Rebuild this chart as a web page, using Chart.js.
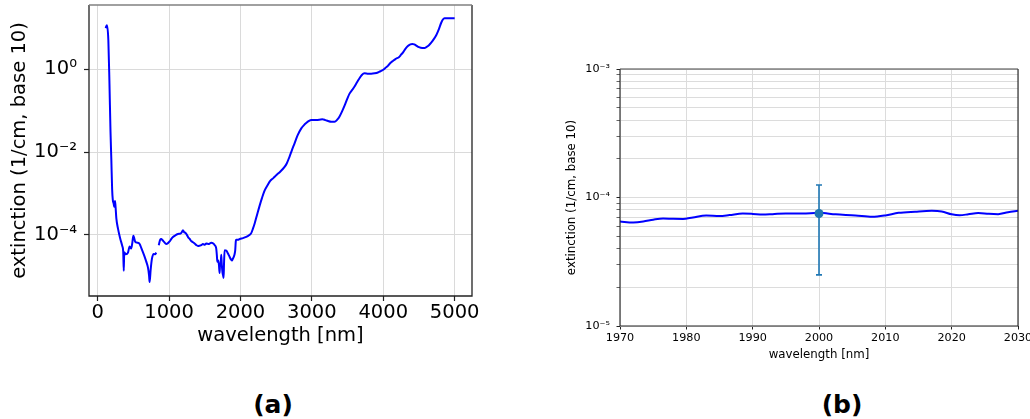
<!DOCTYPE html>
<html>
<head>
<meta charset="utf-8">
<script src="https://cdn.jsdelivr.net/npm/chart.js@4/dist/chart.umd.min.js"></script>
<style>
  html, body { margin: 0; padding: 0; background: #fff; width: 1030px; height: 419px; overflow: hidden; position: relative; }
  canvas { position: absolute; }
  #specA { left: 0; top: 0; }
  #specB { left: 540px; top: 40px; filter: blur(0.35px); }
  .cap { position: absolute; top: 392px; width: 80px; margin-left: -40px; text-align: center;
         font: bold 25px/25px "DejaVu Sans", sans-serif; color: #000; }
</style>
</head>
<body>
<canvas id="specA" width="500" height="360"></canvas>
<canvas id="specB" width="490" height="330"></canvas>
<div class="cap" style="left:273px">(a)</div>
<div class="cap" style="left:842px">(b)</div>
<script>
// ---- (a) full spectrum: wavelength [nm] vs. extinction [1/cm, base 10] ----
const wavelengthA = [
  112, 130, 150, 165, 180, 192, 203, 212, 225, 233, 243, 250, 262, 285, 315, 345, 358, 366, 372, 395,
  425, 448, 470, 485, 500, 512, 527, 555, 588, 612, 650, 680, 705, 720, 728, 742, 760, 785, 805, 822,
  838, 856, 875, 891, 910, 930, 960, 985, 1008, 1035, 1055, 1090, 1125, 1160, 1180, 1195, 1210, 1228, 1250, 1268,
  1290, 1311, 1335, 1358, 1385, 1410, 1430, 1451, 1475, 1500, 1521, 1560, 1591, 1620, 1640, 1660, 1670, 1676, 1690, 1700,
  1708, 1715, 1722, 1731, 1738, 1748, 1757, 1764, 1770, 1778, 1800, 1825, 1845, 1862, 1880, 1895, 1909, 1920, 1927, 1935,
  1941, 1965, 1990, 2035, 2081, 2120, 2151, 2175, 2198, 2235, 2268, 2300, 2338, 2380, 2417, 2460, 2501, 2560, 2618, 2650,
  2688, 2720, 2758, 2800, 2852, 2890, 2921, 2960, 2991, 3062, 3146, 3190, 3225, 3270, 3318, 3355, 3388, 3420, 3458, 3495,
  3528, 3565, 3598, 3635, 3668, 3700, 3738, 3790, 3832, 3880, 3925, 3960, 3995, 4030, 4065, 4100, 4135, 4175, 4219, 4250,
  4275, 4310, 4345, 4380, 4406, 4435, 4462, 4500, 4546, 4580, 4602, 4640, 4672, 4710, 4742, 4775, 4812, 4835, 4858, 4900,
  4950, 5000
];
const extinctionA = [
  9.8, 11.5, 5.01, 0.501, 3.16e-2, 6.31e-3, 1.26e-3, 7.08e-4, 5.62e-4, 4.79e-4, 6.61e-4, 5.01e-4, 2.51e-4, 1.41e-4, 8.32e-5, 5.37e-5, 3.98e-5, 1.35e-5, 3.80e-5, 3.39e-5,
  3.72e-5, 5.25e-5, 4.68e-5, 6.31e-5, 9.55e-5, 8.32e-5, 6.76e-5, 6.46e-5, 6.03e-5, 4.79e-5, 3.24e-5, 2.29e-5, 1.62e-5, 1.05e-5, 7.24e-6, 1.41e-5, 2.63e-5, 3.47e-5, 3.39e-5, 3.72e-5,
  null, 5.62e-5, 7.59e-5, 7.94e-5, 7.41e-5, 6.76e-5, 6.03e-5, 6.31e-5, 6.92e-5, 8.13e-5, 8.91e-5, 9.77e-5, 1.05e-4, 1.07e-4, 1.17e-4, 1.29e-4, 1.17e-4, 1.12e-4, 1.00e-4, 8.71e-5,
  7.94e-5, 7.08e-5, 6.61e-5, 6.17e-5, 5.62e-5, 5.37e-5, 5.50e-5, 5.62e-5, 6.03e-5, 5.75e-5, 6.17e-5, 6.03e-5, 6.46e-5, 6.17e-5, 5.62e-5, 4.79e-5, 3.16e-5, 2.24e-5, 2.40e-5, 1.78e-5,
  1.20e-5, 2.00e-5, 1.86e-5, 3.31e-5, 2.00e-5, 1.26e-5, 1.05e-5, 9.12e-6, 2.00e-5, 4.27e-5, 4.17e-5, 3.55e-5, 3.02e-5, 2.63e-5, 2.40e-5, 2.69e-5, 3.02e-5, 3.55e-5, 4.27e-5, 7.08e-5,
  7.59e-5, 7.59e-5, 7.94e-5, 8.32e-5, 8.91e-5, 9.77e-5, 1.10e-4, 1.41e-4, 1.86e-4, 3.16e-4, 5.01e-4, 7.59e-4, 1.17e-3, 1.58e-3, 2.00e-3, 2.34e-3, 2.75e-3, 3.39e-3, 4.37e-3, 5.37e-3,
  7.76e-3, 1.10e-2, 1.62e-2, 2.51e-2, 3.72e-2, 4.47e-2, 5.01e-2, 5.62e-2, 5.89e-2, 5.89e-2, 6.17e-2, 5.89e-2, 5.62e-2, 5.37e-2, 5.37e-2, 6.03e-2, 7.24e-2, 9.33e-2, 0.132, 0.191,
  0.257, 0.316, 0.380, 0.490, 0.603, 0.724, 0.794, 0.776, 0.776, 0.794, 0.832, 0.891, 0.955, 1.07, 1.20, 1.41, 1.58, 1.78, 1.95, 2.24,
  2.51, 3.09, 3.63, 3.98, 4.07, 3.98, 3.72, 3.39, 3.24, 3.24, 3.39, 3.80, 4.37, 5.37, 6.61, 8.91, 13.2, 15.8, 17.0, 17.0,
  17.0, 17.0
];
const xTicksA = [0, 1000, 2000, 3000, 4000, 5000];
const yTicksA = [1e-4, 1e-2, 1];
const yTickLabelsA = ['10\u207B\u2074', '10\u207B\u00B2', '10\u2070'];

// ---- (b) zoom around 2000 nm with one measured point and its error bar ----
const wavelengthB = [
  1970, 1972, 1973.5, 1975, 1976.5, 1978, 1979.5, 1981, 1983, 1985, 1986.5, 1988.5, 1990, 1991.5, 1993, 1995, 1997.5,
  2000, 2002.5, 2005.5, 2008, 2010, 2012, 2014.5, 2017, 2018.5, 2020, 2021.2, 2022.5, 2024, 2025.6, 2027, 2028.5, 2030
];
const extinctionB = [
  6.50e-5, 6.40e-5, 6.50e-5, 6.72e-5, 6.87e-5, 6.82e-5, 6.80e-5, 7.00e-5, 7.24e-5, 7.18e-5, 7.30e-5, 7.50e-5, 7.45e-5, 7.36e-5, 7.42e-5, 7.52e-5, 7.50e-5,
  7.60e-5, 7.40e-5, 7.25e-5, 7.07e-5, 7.25e-5, 7.60e-5, 7.76e-5, 7.87e-5, 7.78e-5, 7.40e-5, 7.28e-5, 7.40e-5, 7.58e-5, 7.46e-5, 7.42e-5, 7.68e-5, 7.88e-5
];
const pointWavelengthB = [2000];
const pointExtinctionB = [7.5e-5];
const pointErrorB = [5e-5];
const xTicksB = [1970, 1980, 1990, 2000, 2010, 2020, 2030];
const yMajorB = [1e-5, 1e-4, 1e-3];
const yMajorLabelsB = ['10\u207B\u2075', '10\u207B\u2074', '10\u207B\u00B3'];
const yMinorB = [2e-5, 3e-5, 4e-5, 5e-5, 6e-5, 7e-5, 8e-5, 9e-5, 2e-4, 3e-4, 4e-4, 5e-4, 6e-4, 7e-4, 8e-4, 9e-4];

Chart.defaults.font.family = '"DejaVu Sans", sans-serif';
Chart.defaults.color = '#000';

// Fixes an axis box to a set thickness so the plot area lands where wanted.
function fixedBox(size) {
  return s => {
    if (s.isHorizontal()) s.height = size; else s.width = size;
    s.paddingLeft = s.paddingRight = s.paddingTop = s.paddingBottom = 0;
  };
}

// Axes frame (all four spines).
const frame = {
  id: 'frame',
  afterDatasetsDraw(chart, args, opts) {
    const { ctx, chartArea: { left, top, right, bottom } } = chart;
    ctx.save();
    ctx.strokeStyle = opts.color;
    ctx.lineWidth = opts.width;
    ctx.beginPath();
    ctx.moveTo(left, top); ctx.lineTo(left, bottom); ctx.lineTo(right, bottom); ctx.lineTo(right, top);
    ctx.stroke();
    ctx.strokeStyle = opts.topColor;
    ctx.lineWidth = opts.topWidth;
    ctx.beginPath();
    ctx.moveTo(left, top); ctx.lineTo(right, top);
    ctx.stroke();
    ctx.restore();
  }
};

// Vertical error bars with caps, placed through the chart's own scales.
const errorBars = {
  id: 'errorBars',
  afterDatasetsDraw(chart, args, opts) {
    const { ctx, scales: { x, y } } = chart;
    ctx.save();
    ctx.strokeStyle = opts.color;
    ctx.lineWidth = opts.width;
    pointWavelengthB.forEach((w, i) => {
      const px = x.getPixelForValue(w);
      const hi = y.getPixelForValue(pointExtinctionB[i] + pointErrorB[i]);
      const lo = y.getPixelForValue(pointExtinctionB[i] - pointErrorB[i]);
      ctx.beginPath();
      ctx.moveTo(px, hi); ctx.lineTo(px, lo);
      ctx.moveTo(px - opts.cap, hi); ctx.lineTo(px + opts.cap, hi);
      ctx.moveTo(px - opts.cap, lo); ctx.lineTo(px + opts.cap, lo);
      ctx.stroke();
    });
    ctx.restore();
  }
};

const fontA = { family: '"DejaVu Sans", sans-serif', size: 19.5 };

new Chart(document.getElementById('specA'), {
  type: 'line',
  data: {
    datasets: [{
      data: wavelengthA.map((w, i) => ({ x: w, y: extinctionA[i] })),
      borderColor: '#0000ff',
      borderWidth: 2,
      pointRadius: 0,
      cubicInterpolationMode: 'monotone',
      spanGaps: false
    }]
  },
  options: {
    responsive: false,
    animation: false,
    devicePixelRatio: 1,
    layout: { padding: { left: 0, top: 5, right: 28, bottom: 0 } },
    plugins: {
      legend: { display: false },
      tooltip: { enabled: false },
      frame: { color: '#222', width: 1.3, topColor: '#808080', topWidth: 1.6 }
    },
    scales: {
      x: {
        type: 'linear', min: -121, max: 5243,
        afterBuildTicks: s => { s.ticks = xTicksA.map(v => ({ value: v })); },
        afterFit: fixedBox(64),
        ticks: { autoSkip: false, maxRotation: 0, padding: 0, font: fontA, color: '#000', callback: v => String(v) },
        grid: { color: '#dadada', lineWidth: 1, tickLength: 5, tickColor: '#222', tickWidth: 1.2 },
        border: { display: false },
        title: { display: true, text: 'wavelength [nm]', font: fontA, color: '#000', padding: { top: 0, bottom: 12.3 } }
      },
      y: {
        type: 'logarithmic', min: 3.34e-6, max: 35.4,
        afterBuildTicks: s => { s.ticks = yTicksA.map(v => ({ value: v })); },
        afterFit: fixedBox(89),
        ticks: { autoSkip: false, padding: 7, font: fontA, color: '#000',
                 callback: v => yTickLabelsA[yTicksA.indexOf(v)] },
        grid: { color: '#dadada', lineWidth: 1, tickLength: 5, tickColor: '#222', tickWidth: 1.2 },
        border: { display: false },
        title: { display: true, text: 'extinction (1/cm, base 10)', font: fontA, color: '#000', padding: { top: 8, bottom: 0 } }
      }
    }
  },
  plugins: [frame]
});

const tickFontB = { family: '"DejaVu Sans", sans-serif', size: 11.2 };
const titleFontB = { family: '"DejaVu Sans", sans-serif', size: 11.8 };
const yAllB = yMajorB.concat(yMinorB).sort((a, b) => a - b);

new Chart(document.getElementById('specB'), {
  type: 'line',
  data: {
    datasets: [{
      data: pointWavelengthB.map((w, i) => ({ x: w, y: pointExtinctionB[i] })),
      showLine: false,
      pointRadius: 4.5,
      pointBackgroundColor: '#1f77b4',
      pointBorderWidth: 0,
      order: 0
    }, {
      data: wavelengthB.map((w, i) => ({ x: w, y: extinctionB[i] })),
      borderColor: '#0000ff',
      borderWidth: 2,
      pointRadius: 0,
      cubicInterpolationMode: 'monotone',
      order: 1
    }]
  },
  options: {
    responsive: false,
    animation: false,
    devicePixelRatio: 1,
    layout: { padding: { left: 0, top: 29, right: 12, bottom: 0 } },
    plugins: {
      legend: { display: false },
      tooltip: { enabled: false },
      frame: { color: '#222', width: 1.1, topColor: '#444', topWidth: 1.1 },
      errorBars: { color: '#1f77b4', width: 1.6, cap: 3 }
    },
    scales: {
      x: {
        type: 'linear', min: 1970, max: 2030,
        afterBuildTicks: s => { s.ticks = xTicksB.map(v => ({ value: v })); },
        afterFit: fixedBox(44),
        ticks: { autoSkip: false, maxRotation: 0, padding: 1.5, font: tickFontB, color: '#000', callback: v => String(v) },
        grid: { color: '#dcdcdc', lineWidth: 1, tickLength: 3.5, tickColor: '#222', tickWidth: 1 },
        border: { display: false },
        title: { display: true, text: 'wavelength [nm]', font: titleFontB, color: '#000', padding: { top: 0, bottom: 7.9 } }
      },
      y: {
        type: 'logarithmic', min: 1e-5, max: 1e-3,
        afterBuildTicks: s => { s.ticks = yAllB.map(v => ({ value: v })); },
        afterFit: fixedBox(80),
        ticks: { autoSkip: false, padding: 6.5, font: tickFontB, color: '#000',
                 callback: v => { const k = yMajorB.indexOf(v); return k >= 0 ? yMajorLabelsB[k] : ''; } },
        grid: { color: '#dcdcdc', lineWidth: 1, tickLength: 3.5, tickColor: '#222',
                tickWidth: c => (c.tick && yMajorB.indexOf(c.tick.value) >= 0 ? 1 : 0.7) },
        border: { display: false },
        title: { display: true, text: 'extinction (1/cm, base 10)', font: titleFontB, color: '#000', padding: { top: 24.6, bottom: 0 } }
      }
    }
  },
  plugins: [frame, errorBars]
});
</script>
</body>
</html>
